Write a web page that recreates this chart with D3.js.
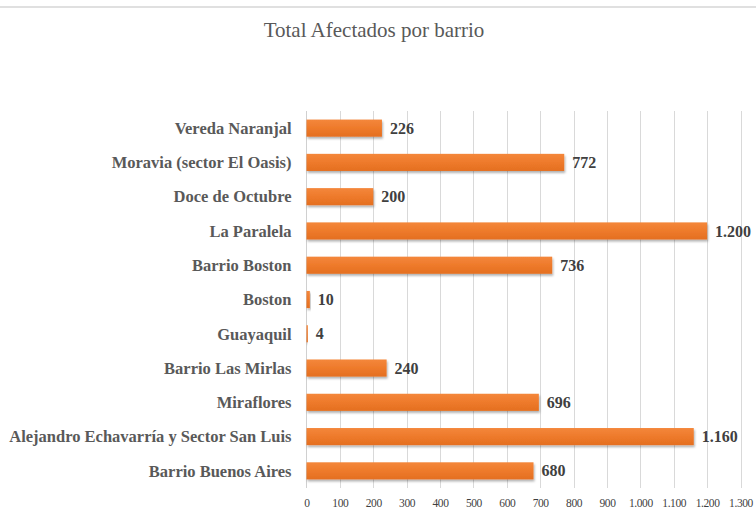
<!DOCTYPE html>
<html>
<head>
<meta charset="utf-8">
<script src="https://cdn.jsdelivr.net/npm/d3@7"></script>
<style>
    body { margin: 0; background: #fff; }
    svg { display: block; font-family: "Liberation Serif", "DejaVu Serif", serif; }
    .chart__title { font-size: 21px; fill: #595959; }
    .chart__label { font-size: 16.5px; font-weight: bold; fill: #595959; }
    .chart__value { font-size: 16px; font-weight: bold; fill: #404040; }
    .chart__tick { font-size: 11.5px; fill: #3f3f3f; font-family: "Liberation Serif", serif; letter-spacing: -0.4px; }
    .chart__grid { stroke: #d9d9d9; stroke-width: 1; }
</style>
</head>
<body>
<svg id="chart" width="756" height="510"></svg>
<script>
var categories = [
    'Vereda Naranjal',
    'Moravia (sector El Oasis)',
    'Doce de Octubre',
    'La Paralela',
    'Barrio Boston',
    'Boston',
    'Guayaquil',
    'Barrio Las Mirlas',
    'Miraflores',
    'Alejandro Echavarría y Sector San Luis',
    'Barrio Buenos Aires'
];
var values = [226, 772, 200, 1200, 736, 10, 4, 240, 696, 1160, 680];
var ticks = [0, 100, 200, 300, 400, 500, 600, 700, 800, 900, 1000, 1100, 1200, 1300];
var title = 'Total Afectados por barrio';

(function() {
    var options = {
        width: 756,
        height: 510,
        left: 306.5,
        right: 740.5,
        top: 111,
        bottom: 488
    };

    var locale = d3.formatLocale({ decimal: ',', thousands: '.', grouping: [3], currency: ['$', ''] });
    var fmt = locale.format(',d');

    var svg = d3.select('#chart');

    var defs = svg.append('defs');
    var shadow = defs.append('filter')
        .attr('id', 'bar-shadow')
        .attr('x', '-5%').attr('y', '-30%')
        .attr('width', '110%').attr('height', '170%');
    shadow.append('feDropShadow')
        .attr('dx', 1).attr('dy', 2)
        .attr('stdDeviation', 1.2)
        .attr('flood-color', '#000')
        .attr('flood-opacity', 0.3);

    var grad = defs.append('linearGradient')
        .attr('id', 'bar-fill')
        .attr('x1', 0).attr('y1', 0).attr('x2', 0).attr('y2', 1);
    grad.append('stop').attr('offset', '0%').attr('stop-color', '#f4873b');
    grad.append('stop').attr('offset', '50%').attr('stop-color', '#ee7a2b');
    grad.append('stop').attr('offset', '100%').attr('stop-color', '#e46f20');

    // top border of the chart frame
    svg.append('line')
        .attr('x1', 0).attr('x2', options.width)
        .attr('y1', 7).attr('y2', 7)
        .attr('stroke', '#d6d6d6')
        .attr('stroke-width', 1.5);

    svg.append('text')
        .classed('chart__title', true)
        .attr('x', 374)
        .attr('y', 37)
        .attr('text-anchor', 'middle')
        .text(title);

    var x = d3.scaleLinear()
        .domain([0, 1300])
        .range([options.left, options.right]);

    var y = d3.scaleBand()
        .domain(categories)
        .range([options.top, options.bottom])
        .paddingInner(0.5)
        .paddingOuter(0.25);

    // vertical gridlines
    svg.append('g')
        .selectAll('line')
        .data(ticks.slice(1))
        .enter()
        .append('line')
        .classed('chart__grid', true)
        .attr('x1', function(d) { return Math.round(x(d)) + 0.5; })
        .attr('x2', function(d) { return Math.round(x(d)) + 0.5; })
        .attr('y1', options.top)
        .attr('y2', options.bottom);

    // category axis line
    svg.append('line')
        .attr('x1', options.left).attr('x2', options.left)
        .attr('y1', options.top).attr('y2', options.bottom)
        .attr('stroke', '#d0d0d0');

    var xAxis = d3.axisBottom(x)
        .tickValues(ticks)
        .tickFormat(fmt)
        .tickSize(0)
        .tickPadding(0);

    var axisG = svg.append('g')
        .attr('transform', 'translate(0,' + (options.bottom + 11) + ')')
        .call(xAxis)
        .attr('font-family', null)
        .attr('font-size', null);
    axisG.select('.domain').remove();
    axisG.selectAll('text')
        .attr('class', 'chart__tick')
        .attr('fill', null)
        .attr('dy', '0.66em');

    var rows = svg.append('g')
        .selectAll('g')
        .data(categories)
        .enter()
        .append('g');

    rows.append('rect')
        .attr('x', x(0))
        .attr('y', function(d) { return y(d); })
        .attr('width', function(d, i) { return x(values[i]) - x(0); })
        .attr('height', y.bandwidth())
        .attr('fill', 'url(#bar-fill)')
        .attr('filter', 'url(#bar-shadow)');

    rows.append('text')
        .classed('chart__label', true)
        .attr('x', options.left - 15)
        .attr('y', function(d) { return y(d) + y.bandwidth() / 2; })
        .attr('dy', '0.35em')
        .attr('text-anchor', 'end')
        .text(function(d) { return d; });

    rows.append('text')
        .classed('chart__value', true)
        .attr('x', function(d, i) { return x(values[i]) + 8; })
        .attr('y', function(d) { return y(d) + y.bandwidth() / 2; })
        .attr('dy', '0.35em')
        .text(function(d, i) { return fmt(values[i]); });
})();
</script>
</body>
</html>
